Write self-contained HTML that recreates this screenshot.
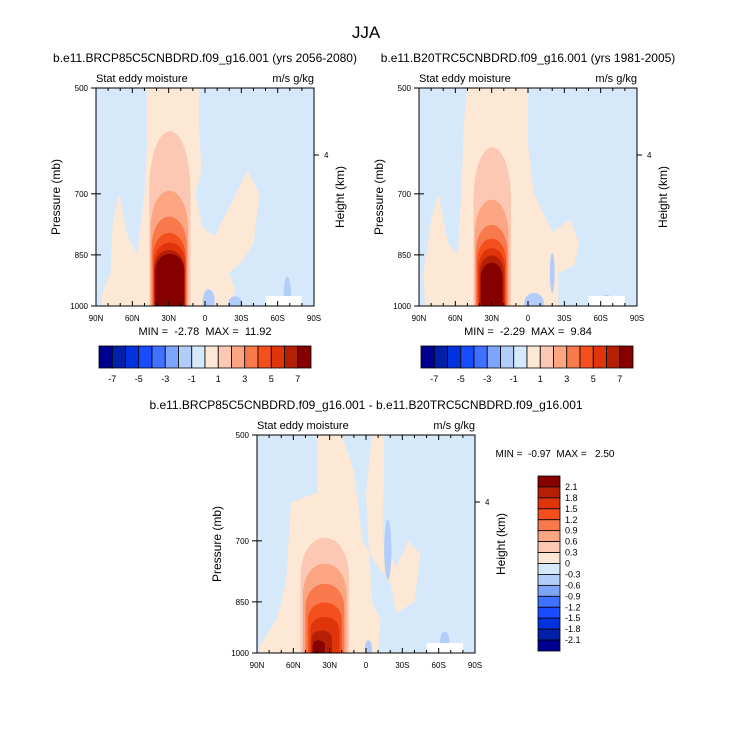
<!DOCTYPE html>
<html><head><meta charset="utf-8">
<style>
html,body{margin:0;padding:0;background:#fff;}
svg{display:block;font-family:"Liberation Sans",sans-serif;}
text{white-space:pre;}
</style></head>
<body>
<svg id="s" width="733" height="746" xmlns="http://www.w3.org/2000/svg">
<text x="366" y="38" font-size="17" text-anchor="middle">JJA</text>
</svg>
<script>
const NS='http://www.w3.org/2000/svg';
const svg=document.getElementById('s');
// ---- data ----
const colors=['#000090','#0020a8','#0033dd','#1a4cff','#4070ff','#7da5fb','#b3cdfb','#d6e9fb','#fde8d5','#fcc8b3','#fba583','#f87a4c','#f4501e','#e0340b','#b52005','#870000'];
const hLabels=['-7','-5','-3','-1','1','3','5','7'];
const vLabels=['2.1','1.8','1.5','1.2','0.9','0.6','0.3','0','-0.3','-0.6','-0.9','-1.2','-1.5','-1.8','-2.1'];
const latTicks=[90,60,30,0,-30,-60,-90];
const latTickLabels=['90N','60N','30N','0','30S','60S','90S'];
const pTicks=[500,700,850,1000];
// tan (0..1 level) region polygons [lat,p]
const tan1=[[48,500],[5,500],[5,560],[3,650],[8,700],[2,780],[-8,800],[-22,720],[-35,650],[-45,700],[-40,820],[-30,870],[-20,900],[-25,950],[-20,1000],[85,1000],[85,960],[78,900],[76,760],[71,700],[64,800],[56,850],[50,700],[48,600]];
const tan2=[[50,500],[0,500],[0,600],[-5,700],[-20,790],[-35,760],[-42,820],[-38,880],[-25,900],[-25,1000],[85,1000],[86,900],[80,760],[74,700],[66,820],[58,850],[55,700],[53,560]];
const tan3=[[50,500],[40,500],[40,600],[62,620],[66,800],[74,900],[88,980],[88,1000],[-10,1000],[-12,900],[-5,850],[-2,700],[0,600],[-5,500],[-15,500],[-14,700],[-25,760],[-35,700],[-45,730],[-40,850],[-25,880],[-20,800],[-10,760],[3,700],[10,560],[20,500]];
// red levels: top pressure, left lat, right lat
const tops1=[570,690,750,790,815,835,845,850];
const left1=[46,45,44,43,42,42,41,41];
const right1=[12,14,15,16,16,17,17,18];
const tops2=[600,710,770,805,830,850,870,880];
const left2=[45,44,43,42,41,40,39,38];
const right2=[14,16,17,18,19,20,21,22];
const tops3=[690,750,800,850,890,930,960];
const left3=[54,52,50,48,46,45,44];
const right3=[14,16,18,20,22,28,34];
// blue patches [lat, p, halfLat, halfP(px), level]
const blue1=[[-3,985,5,12,6],[-25,995,6,8,6],[-68,965,3,18,6]];
const blue2=[[-5,990,8,10,6],[-20,900,2,20,6],[-65,990,5,8,6]];
const blue3=[[-18,720,3,30,6],[-2,985,3,8,6],[-65,970,4,12,6]];

function el(tag,attrs,name,parent){const e=document.createElementNS(NS,tag);for(const k in attrs)e.setAttribute(k,attrs[k]);


(parent||svg).appendChild(e);return e;}
function txt(x,y,s,size,anchor,name,extra){const t=el('text',Object.assign({x:x,y:y,'font-size':size,'text-anchor':anchor||'start'},extra||{}),name);t.textContent=s;return t;}

function panel(x0,y0,id,tan,tops,left,right,blues,title,minmax){
  const W=218,H=218;
  const X=lat=>x0+(90-lat)/180*W;
  const lp0=Math.log(500),lp1=Math.log(1000);
  const Y=p=>y0+(Math.log(p)-lp0)/(lp1-lp0)*H;
  const g=el('g',{},id+'-plot');
  const cid=id+'clip';
  const cp=el('clipPath',{id:cid},id+'-clip',g);
  el('rect',{x:x0,y:y0,width:W,height:H},id+'-clip-rect',cp);
  const inner=el('g',{'clip-path':'url(#'+cid+')'},id+'-contours',g);
  el('rect',{x:x0,y:y0,width:W,height:H,fill:colors[7]},id+'-background-level',inner);
  el('path',{d:'M'+tan.map(q=>X(q[0])+','+Y(q[1])).join('L')+'Z',fill:colors[8]},id+'-contour-0-to-1',inner);
  for(let i=0;i<tops.length;i++){
    const l=X(left[i]),r=X(right[i]),t=Y(tops[i]),b=Y(1000)+2,h=b-t;
    const d='M'+l+','+b+' L'+l+','+(t+h*0.35)+' C'+l+','+(t-h*0.1)+' '+r+','+(t-h*0.1)+' '+r+','+(t+h*0.35)+' L'+r+','+b+'Z';
    el('path',{d:d,fill:colors[9+Math.min(i,6)]},id+'-contour-level-'+(i+1),inner);
  }
  blues.forEach(b=>{el('ellipse',{cx:X(b[0]),cy:Y(b[1]),rx:b[2]/180*W,ry:b[3],fill:colors[b[4]]},id+'-negative-patch',inner);});
  el('rect',{x:X(-50),y:Y(1000)-10,width:X(-80)-X(-50),height:10,fill:'#fff'},id+'-missing-data',inner);
  el('rect',{x:x0,y:y0,width:W,height:H,fill:'none',stroke:'#000','stroke-width':1},id+'-frame',g);
  for(let lat=90;lat>=-90;lat-=10){const major=lat%30===0;const L=major?5:3;
    el('line',{x1:X(lat),x2:X(lat),y1:y0+H,y2:y0+H-L,stroke:'#000'},id+'-x-tick',g);
    el('line',{x1:X(lat),x2:X(lat),y1:y0,y2:y0+L,stroke:'#000'},id+'-x-tick-top',g);}
  latTicks.forEach((lat,i)=>txt(X(lat),y0+H+15,latTickLabels[i],8,'middle',id+'-x-tick-label'));
  pTicks.forEach(p=>{el('line',{x1:x0-5,x2:x0,y1:Y(p),y2:Y(p),stroke:'#000'},id+'-y-tick',g);
    el('line',{x1:x0,x2:x0+5,y1:Y(p),y2:Y(p),stroke:'#000'},id+'-y-tick-in',g);
    txt(x0-8,Y(p)+3,String(p),8,'end',id+'-y-tick-label');});
  el('line',{x1:x0+W,x2:x0+W+5,y1:y0+67,y2:y0+67,stroke:'#000'},id+'-height-tick',g);
  txt(x0+W+10,y0+70,'4',8,'start',id+'-height-tick-label');
  const ya=y0+H/2;
  txt(x0-36,ya,'Pressure (mb)',12,'middle',id+'-y-axis-title',{transform:'rotate(-90 '+(x0-36)+' '+ya+')'});
  txt(x0+W+30,ya,'Height (km)',12,'middle',id+'-right-axis-title',{transform:'rotate(-90 '+(x0+W+30)+' '+ya+')'});
  txt(x0,y0-6,'Stat eddy moisture',11,'start',id+'-subtitle-left');
  txt(x0+W,y0-6,'m/s g/kg',11,'end',id+'-subtitle-right');
  txt(title[1],title[2],title[0],12,'middle',id+'-title');
  if(minmax) txt(x0+W/2,y0+H+29,minmax,11,'middle',id+'-min-max');
}
function hbar(x0,y0,id){
  const bw=(212)/16;
  colors.forEach((c,i)=>el('rect',{x:x0+i*bw,y:y0,width:bw,height:22,fill:c,stroke:'#000','stroke-width':0.8},id+'-colorbar-box'));
  hLabels.forEach((s,i)=>txt(x0+(2*i+1)*bw,y0+36,s,9,'middle',id+'-colorbar-label'));
}
panel(96,88,'p1',tan1,tops1,left1,right1,blue1,['b.e11.BRCP85C5CNBDRD.f09_g16.001 (yrs 2056-2080)',205,62],'MIN =  -2.78  MAX =  11.92');
panel(419,88,'p2',tan2,tops2,left2,right2,blue2,['b.e11.B20TRC5CNBDRD.f09_g16.001 (yrs 1981-2005)',528,62],'MIN =  -2.29  MAX =  9.84');
panel(257,435,'p3',tan3,tops3,left3,right3,blue3,['b.e11.BRCP85C5CNBDRD.f09_g16.001 - b.e11.B20TRC5CNBDRD.f09_g16.001',366,409],null);
hbar(99,346,'p1');
hbar(421,346,'p2');
txt(555,457,'MIN =  -0.97  MAX =   2.50',10,'middle','p3-min-max');
const vh=175/16;
colors.slice().reverse().forEach((c,i)=>el('rect',{x:538,y:476+i*vh,width:22,height:vh,fill:c,stroke:'#000','stroke-width':0.8},'p3-colorbar-box'));
vLabels.forEach((s,i)=>txt(565,476+(i+1)*vh+3,s,9,'start','p3-colorbar-label'));
</script>
</body></html>
